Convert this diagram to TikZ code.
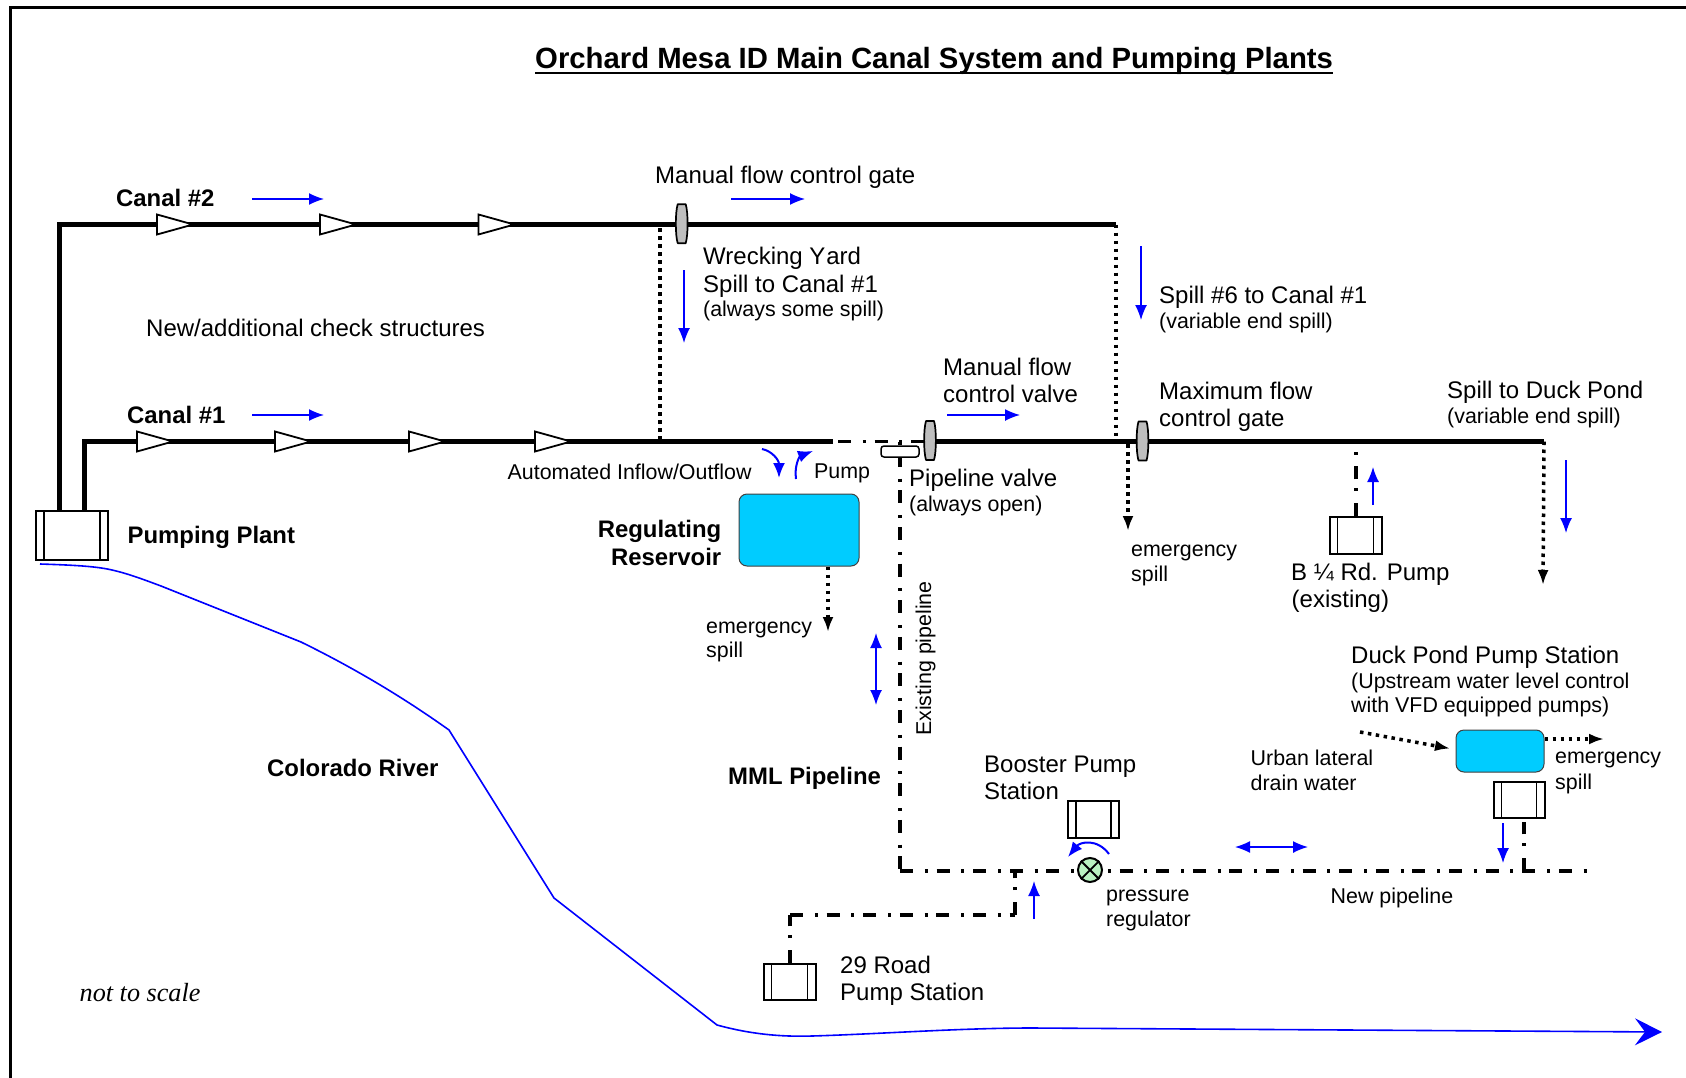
\documentclass[tikz,border=0pt]{standalone}
\usepackage{fontspec}
\setmainfont{Liberation Sans}
\newfontfamily\serifit{Liberation Serif}
\usetikzlibrary{arrows.meta,calc}
\definecolor{riverblue}{RGB}{0,0,255}
\definecolor{pondcyan}{RGB}{0,204,255}
\definecolor{reggreen}{RGB}{185,242,192}
\definecolor{gategray}{RGB}{190,190,190}
\newcommand{\fmain}{\fontsize{24}{29}\selectfont}
\newcommand{\fsmall}{\fontsize{21.4}{25}\selectfont}
\newcommand{\fbold}{\fontsize{23.9}{29}\selectfont\bfseries}
\tikzset{
  x=1pt,y=-1pt,
  canal/.style={line width=5pt,black},
  dotline/.style={line width=3.5pt,black,dash pattern=on 3.5pt off 4.5pt},
  dotarrow/.style={dotline,-{Latex[length=15pt,width=11pt,sep=0pt]}},
  pipe/.style={line width=3.5pt,black,dash pattern=on 13pt off 11.8pt on 3pt off 8.8pt},
  flow/.style={line width=1.5pt,riverblue,-{Latex[length=15pt,width=12pt]}},
  flowboth/.style={line width=1.5pt,riverblue,{Latex[length=15pt,width=12pt]}-{Latex[length=15pt,width=12pt]}},
  curveflow/.style={line width=2pt,riverblue,-{Latex[length=15pt,width=12pt]}},
  pumpbox/.style={draw=black,line width=2pt,fill=white,inner sep=0pt,minimum width=#1,
    path picture={\draw[line width=1.5pt]
      ([xshift=8pt]path picture bounding box.north west)--([xshift=8pt]path picture bounding box.south west)
      ([xshift=-8pt]path picture bounding box.north east)--([xshift=-8pt]path picture bounding box.south east);}},
  pumpbox/.default=52pt,
  gatenode/.style={minimum width=12pt,minimum height=39pt,inner sep=0pt,outer sep=0pt},
  barrelshape/.style={draw=black,line width=1.7pt,fill=gategray,line join=round},
  pond/.style={draw=black!75,line width=1pt,fill=pondcyan,rounded corners=8pt,inner sep=0pt},
  lbl/.style={anchor=base west,inner sep=0pt,font=\fmain},
  lbs/.style={anchor=base west,inner sep=0pt,font=\fsmall},
  lbb/.style={anchor=base west,inner sep=0pt,font=\fbold},
  checktri/.pic={\draw[line width=1.8pt,fill=white,line join=miter] (-18,-10)--(18,0)--(-18,10)--cycle;},
}
\begin{document}
\begin{tikzpicture}
\useasboundingbox (0,0) rectangle (1686,1078);
% frame
\draw[line width=3pt] (10.5,1090) -- (10.5,7.5) -- (1700,7.5);

% coordinates
\coordinate (c2corner) at (59.5,224.5);
\coordinate (c2end) at (1116,224.5);
\coordinate (c1corner) at (84,441.5);
\coordinate (c1break) at (833,441.5);
\coordinate (c1pipe) at (838,441.5);
\coordinate (c1pipeend) at (925,441.5);
\coordinate (c1resume) at (930,441.5);
\coordinate (c1end) at (1544,441.5);
\coordinate (pipetop) at (900,442);
\coordinate (pipecorner) at (900,871);
\coordinate (pipeend) at (1587,871);
\coordinate (branchtop) at (1015,871);
\coordinate (branchcorner) at (1015,915);
\coordinate (roadcorner) at (790,915);
\coordinate (wytop) at (660,228);
\coordinate (wybot) at (660,441.5);
\coordinate (s6bot) at (1116,441.5);
\coordinate (espilltop) at (1128,444);
\coordinate (espillend) at (1128,531);
\coordinate (bpumptop) at (1356,444);
\coordinate (dpspillend) at (1543,585);
\coordinate (ducktop) at (1524,822);
\coordinate (duckbot) at (1524,871);
\coordinate (urbanstart) at (1360,732);
\coordinate (urbanend) at (1450,748.5);
\coordinate (resspillend) at (828,632);
\coordinate (pondspillend) at (1604,739);

% nodes
\node[pumpbox=72pt,minimum height=49pt] (plant) at (72,535) {};
\node[pumpbox=52pt,minimum height=37pt] (bpump) at (1355.5,535.5) {};
\node[pumpbox=51pt,minimum height=36pt] (dpump) at (1519,800) {};
\node[pumpbox=51pt,minimum height=37pt] (booster) at (1093.5,819.5) {};
\node[pumpbox=52pt,minimum height=36pt] (road) at (789.5,982) {};
\node[pond,minimum width=120pt,minimum height=72pt] (reservoir) at (799,530) {};
\node[pond,minimum width=88pt,minimum height=42pt] (dpond) at (1500,751) {};

% canals
\draw[canal,line join=miter] (c2corner |- plant.north) -- (c2corner) -- (c2end);
\draw[canal,line join=miter] (c1corner |- plant.north) -- (c1corner) -- (c1break);
\draw[canal] (c1resume) -- (c1end);
\draw[pipe] (c1pipe) -- (c1pipeend);

\node[gatenode] (gateA) at (681.7,223.7) {};
\node[gatenode] (gateB) at (930,440.5) {};
\node[gatenode] (gateC) at (1142.5,441) {};
\foreach \g in {gateA,gateB,gateC}
  \draw[barrelshape] ([xshift=-4pt]\g.north) -- ([xshift=4pt]\g.north)
     .. controls ([xshift=6.5pt,yshift=-8pt]\g.north) and ([xshift=6.5pt,yshift=8pt]\g.south) .. ([xshift=4pt]\g.south)
     -- ([xshift=-4pt]\g.south)
     .. controls ([xshift=-6.5pt,yshift=8pt]\g.south) and ([xshift=-6.5pt,yshift=-8pt]\g.north) .. cycle;

\foreach \x in {175,338,496.5} \pic at (\x,224.5) {checktri};
\foreach \x in {155,293,427,553} \pic at (\x,441.5) {checktri};

% dotted spills
\draw[dotline] (wytop) -- (wybot);
\draw[dotline] (c2end) -- (s6bot);
\draw[dotarrow] (espilltop) -- (espillend);
\draw[dotarrow] (c1end) -- (dpspillend);
\draw[dotarrow] (reservoir.south -| resspillend) -- (resspillend);
\draw[dotarrow] (urbanstart) -- (urbanend);
\draw[dotarrow] (dpond.east |- pondspillend) -- (pondspillend);

% pipelines
\draw[pipe,dash phase=24.8pt] (pipetop) -- (pipecorner);
\draw[pipe] (pipecorner) -- (pipeend);
\draw[pipe] (branchcorner) -- (branchtop);
\draw[pipe] (roadcorner) -- (branchcorner);
\draw[pipe] (road.north -| roadcorner) -- (roadcorner);
\draw[pipe] (bpump.north -| bpumptop) -- (bpumptop);
\draw[pipe] (duckbot) -- (ducktop);
\node[draw=black,line width=1.5pt,fill=white,rounded corners=3pt,minimum width=38pt,minimum height=11pt,inner sep=0pt] (pvalve) at (900,451.5) {};

% regulator
\node[circle,draw=black,line width=2pt,fill=reggreen,minimum size=24pt,inner sep=0pt] (reg) at (1090,870) {};
\draw[line width=1.8pt] (reg.north west)--(reg.south east) (reg.north east)--(reg.south west);

% blue flow arrows
\draw[flow] (252,199) -- (324,199);
\draw[flow] (252,415) -- (324,415);
\draw[flow] (731,199) -- (805,199);
\draw[flow] (947,415) -- (1020,415);
\draw[flow] (684,270) -- (684,343);
\draw[flow] (1141,246) -- (1141,320);
\draw[flow] (1566,460) -- (1566,533);
\draw[flow] (1373,505) -- (1373,467);
\draw[flow] (1503,823) -- (1503,863);
\draw[flow] (1034,919) -- (1034,881);
\draw[flowboth] (876,633) -- (876,705);
\draw[flowboth] (1235,847) -- (1308,847);
\draw[curveflow] (762,449) .. controls (772,451) and (779,460) .. (779,478);
\draw[curveflow] (796,479) .. controls (794,465) and (800,456) .. (813,451);
\draw[curveflow] (1109,854) .. controls (1097,838) and (1080,842) .. (1068,857);

% river
\draw[riverblue,line width=1.6pt,-{Stealth[length=27pt,width=27pt,inset=10pt]}]
  (40,564) .. controls (70,565) and (95,566) .. (112,570)
  .. controls (130,574) and (150,582) .. (161,586) -- (301,642)
  .. controls (350,666) and (400,695) .. (449,730) -- (554,898) -- (717,1025)
  .. controls (750,1034) and (780,1037) .. (812,1036)
  .. controls (880,1034) and (960,1028) .. (1032,1028) -- (1662,1032);

% title
\node[anchor=base west,inner sep=0pt,font=\fontsize{29.3}{34}\selectfont\bfseries] (title) at (535,69) {Orchard Mesa ID Main Canal System and Pumping Plants};
\draw[line width=2.6pt] ([yshift=-4pt]title.base west) -- ([yshift=-4pt]title.base east);

% labels
\node[lbb] (t1) at (116,207) {Canal \#2};
\node[lbb] (t2) at (127,423) {Canal \#1};
\node[lbb] (t3) at (127.5,543) {Pumping Plant};
\node[lbb,anchor=base east] (t4) at (721.5,537) {Regulating};
\node[lbb,anchor=base east] (t5) at (721.5,565) {Reservoir};
\node[lbb] (t6) at (728,784) {MML Pipeline};
\node[lbb] (t7) at (267,776) {Colorado River};
\node[lbl] (t8) at (146,336) {New/additional check structures};
\node[lbl] (t9) at (655,184) {Manual flow control gate};
\node[lbl] (t10) at (703,264) {Wrecking Y\kern0.8pt ard};
\node[lbl] (t11) at (703,292) {Spill to Canal \#1};
\node[lbs] (t12) at (703,316) {(always some spill)};
\node[lbl] (t13) at (1159,303) {Spill \#6 to Canal \#1};
\node[lbs] (t14) at (1159,328) {(variable end spill)};
\node[lbl] (t15) at (943,375) {Manual flow};
\node[lbl] (t16) at (943,402) {control valve};
\node[lbl] (t17) at (1159,399) {Maximum flow};
\node[lbl] (t18) at (1159,426) {control gate};
\node[lbl] (t19) at (1447,398) {Spill to Duck Pond};
\node[lbs] (t20) at (1447,423) {(variable end spill)};
\node[lbs] (t21) at (507.5,479) {Automated Inflow/Outflow};
\node[lbs] (t22) at (814,478) {Pump};
\node[lbl] (t23) at (909,486) {Pipeline valve};
\node[lbs] (t24) at (909,511) {(always open)};
\node[lbs] (t25) at (1131,556) {emergency};
\node[lbs] (t26) at (1131,581) {spill};
\node[lbs] (t27) at (706,633) {emergency};
\node[lbs] (t28) at (706,657) {spill};
\node[lbl] (t29) at (1291,580) {B ¼ Rd. Pump};
\node[lbl] (t30) at (1291.5,607) {(existing)};
\node[lbl] (t31) at (1351,663) {Duck Pond Pump Station};
\node[lbs] (t32) at (1351,688) {(Upstream water level control};
\node[lbs] (t33) at (1351,712) {with VFD equipped pumps)};
\node[lbs] (t34) at (1250.5,765) {Urban lateral};
\node[lbs] (t35) at (1250.5,790) {drain water};
\node[lbs] (t36) at (1555,763) {emergency};
\node[lbs] (t37) at (1555,789) {spill};
\node[lbl] (t38) at (984,772) {Booster Pump};
\node[lbl] (t39) at (984,799) {Station};
\node[lbs] (t40) at (1106,901) {pressure};
\node[lbs] (t41) at (1106,926) {regulator};
\node[lbs] (t42) at (1330.5,903) {New pipeline};
\node[lbl] (t43) at (840,973) {29 Road};
\node[lbl] (t44) at (840,1000) {Pump Station};
\node[lbs,rotate=90] (t45) at (931,736) {Existing pipeline};
\node[anchor=base west,inner sep=0pt,font=\serifit\itshape\fontsize{26.2}{30}\selectfont] (t46) at (79.5,1001) {not to scale};
\end{tikzpicture}
\end{document}
